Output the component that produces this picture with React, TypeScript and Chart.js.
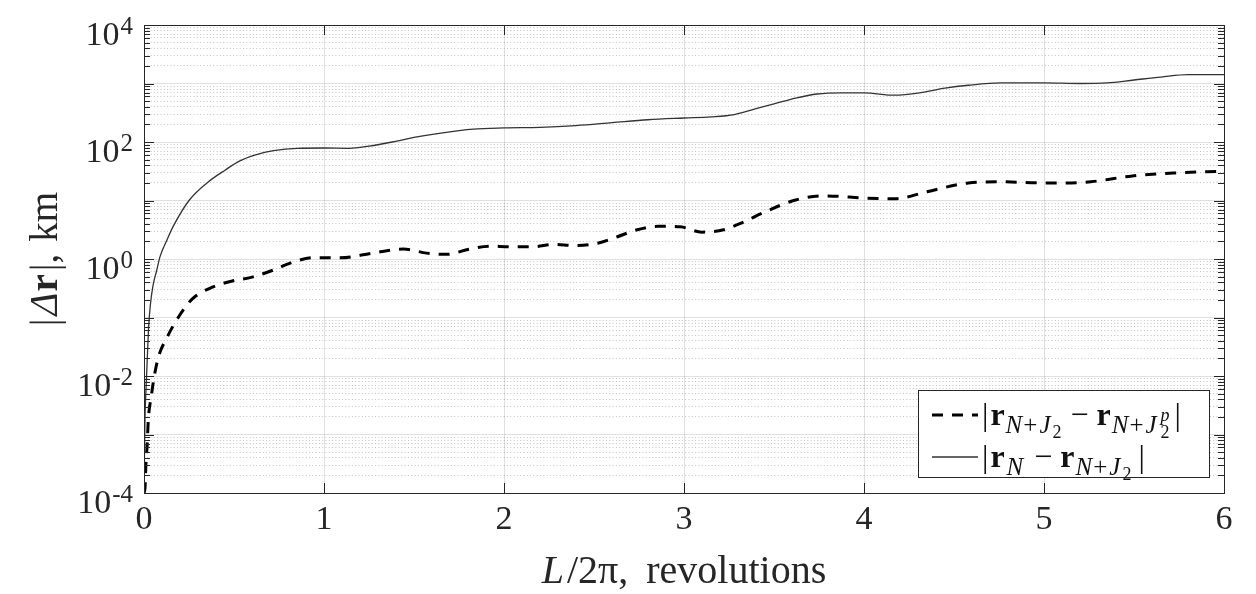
import React, { useEffect, useRef } from 'react';
import { Chart, registerables } from 'chart.js';

Chart.register(...registerables);

// ---------- data ----------
// |r_N - r_{N+J2}|  (solid)
const solidX = [0, 0.005, 0.01, 0.017, 0.025, 0.035, 0.05, 0.07, 0.09, 0.13, 0.16, 0.25, 0.35, 0.45, 0.53, 0.62, 0.72, 0.85, 1.0, 1.14, 1.25, 1.38, 1.5, 1.64, 1.83, 2.0, 2.2, 2.4, 2.6, 2.8, 3.0, 3.15, 3.28, 3.4, 3.5, 3.62, 3.74, 3.87, 4.0, 4.17, 4.31, 4.45, 4.58, 4.76, 5.0, 5.2, 5.35, 5.5, 5.65, 5.8, 6.0];
const solidY = [0.0001, 0.0016, 0.005, 0.016, 0.063, 0.16, 0.35, 0.63, 1.12, 2.2, 3.5, 10, 20, 33, 47, 60, 71, 78, 79, 78, 85, 100, 120, 141, 166, 174, 178, 191, 214, 240, 257, 269, 295, 372, 447, 562, 661, 692, 692, 631, 692, 832, 933, 1023, 1023, 1000, 1023, 1148, 1288, 1413, 1413];

// |r_{N+J2} - r_{N+J2^p}|  (dashed)
const dashedX = [0, 0.006, 0.01, 0.018, 0.024, 0.04, 0.056, 0.08, 0.13, 0.19, 0.27, 0.38, 0.49, 0.6, 0.72, 0.83, 0.94, 1.09, 1.27, 1.44, 1.57, 1.68, 1.81, 1.92, 2.03, 2.16, 2.28, 2.39, 2.52, 2.63, 2.74, 2.86, 2.98, 3.1, 3.22, 3.33, 3.44, 3.62, 3.78, 4.01, 4.17, 4.35, 4.58, 4.76, 4.99, 5.12, 5.26, 5.49, 5.72, 6.0];
const dashedY = [0.0001, 0.000126, 0.00028, 0.0007, 0.0018, 0.0044, 0.0095, 0.021, 0.047, 0.1, 0.21, 0.33, 0.42, 0.49, 0.65, 0.89, 1.05, 1.05, 1.26, 1.48, 1.26, 1.2, 1.48, 1.66, 1.62, 1.62, 1.78, 1.7, 1.86, 2.4, 3.16, 3.63, 3.55, 2.88, 3.16, 4.27, 6.17, 10.2, 12.0, 11.0, 10.7, 14.1, 20.0, 20.9, 20.0, 20.0, 20.9, 26.3, 29.5, 31.6];

const xTickValues = [0, 1, 2, 3, 4, 5, 6];
const yDecadeExponents = [-4, -3, -2, -1, 0, 1, 2, 3, 4];
const yLabelExponents = [-4, -2, 0, 2, 4];
const xMin = 0;
const xMax = 6;
const yMin = 1e-4;
const yMax = 1e4;

const legendNames = ['|r_{N+J2} − r_{N+J2^p}|', '|r_N − r_{N+J2}|'];

// ---------- styling ----------
const SERIF = '"Liberation Serif", "Times New Roman", serif';
const AXIS = '#262626';

type Seg = { t: string; font: string; dy?: number; gap?: number; stack?: boolean };

function drawRich(ctx: CanvasRenderingContext2D, segs: Seg[], x: number, y: number, draw = true): number {
  let cx = x;
  let lastX = x;
  for (const s of segs) {
    ctx.font = s.font;
    const w = ctx.measureText(s.t).width;
    if (s.stack) {
      if (draw) ctx.fillText(s.t, lastX, y + (s.dy || 0));
      cx = Math.max(cx, lastX + w);
      continue;
    }
    cx += s.gap || 0;
    if (draw) ctx.fillText(s.t, cx, y + (s.dy || 0));
    lastX = cx;
    cx += w;
  }
  return cx - x;
}

const mainF = `32px ${SERIF}`;
const boldF = `bold 32px ${SERIF}`;
const subI = `italic 25px ${SERIF}`;
const subN = `25px ${SERIF}`;
const ssN = `18px ${SERIF}`;
const ssI = `italic 18px ${SERIF}`;

const legendRows: Seg[][] = [
  [
    { t: '|', font: mainF },
    { t: 'r', font: boldF, gap: 2 },
    { t: 'N', font: subI, dy: 8, gap: 1 },
    { t: '+', font: subN, dy: 8, gap: 1 },
    { t: 'J', font: subI, dy: 8, gap: 2 },
    { t: '2', font: ssN, dy: 13, gap: 2 },
    { t: '−', font: mainF, gap: 9 },
    { t: 'r', font: boldF, gap: 8 },
    { t: 'N', font: subI, dy: 8, gap: 1 },
    { t: '+', font: subN, dy: 8, gap: 1 },
    { t: 'J', font: subI, dy: 8, gap: 2 },
    { t: 'p', font: ssI, dy: -4, gap: 4 },
    { t: '2', font: ssN, dy: 13, stack: true },
    { t: '|', font: mainF, gap: 5 },
  ],
  [
    { t: '|', font: mainF },
    { t: 'r', font: boldF, gap: 2 },
    { t: 'N', font: subI, dy: 8, gap: 2 },
    { t: '−', font: mainF, gap: 11 },
    { t: 'r', font: boldF, gap: 8 },
    { t: 'N', font: subI, dy: 8, gap: 1 },
    { t: '+', font: subN, dy: 8, gap: 1 },
    { t: 'J', font: subI, dy: 8, gap: 2 },
    { t: '2', font: ssN, dy: 13, gap: 2 },
    { t: '|', font: mainF, gap: 7 },
  ],
];

const titleF = `40px ${SERIF}`;
const xTitleSegs: Seg[] = [
  { t: 'L', font: `italic 40px ${SERIF}` },
  { t: '/2π,', font: titleF, gap: 3 },
  { t: 'revolutions', font: titleF, gap: 18 },
];
const yTitleF = `39px ${SERIF}`;
const yTitleSegs: Seg[] = [
  { t: '|', font: yTitleF },
  { t: 'Δ', font: `italic 39px ${SERIF}`, gap: 3 },
  { t: 'r', font: `bold 39px ${SERIF}`, gap: 1 },
  { t: '|', font: yTitleF, gap: 3 },
  { t: ',', font: yTitleF },
  { t: 'km', font: yTitleF, gap: 12 },
];

const tickF = `34px ${SERIF}`;
const expF = `25px ${SERIF}`;

const framePlugin = {
  id: 'matlabFrame',
  afterDraw(chart: any) {
    const { ctx, chartArea: a, scales } = chart;
    const xs = scales.x;
    const ys = scales.y;
    ctx.save();
    // box
    ctx.strokeStyle = AXIS;
    ctx.lineWidth = 1;
    ctx.setLineDash([]);
    ctx.strokeRect(Math.round(a.left) + 0.5, Math.round(a.top) + 0.5, Math.round(a.right - a.left), Math.round(a.bottom - a.top));
    // x ticks (inward, top & bottom)
    ctx.beginPath();
    for (const v of xTickValues) {
      const px = Math.round(xs.getPixelForValue(v)) + 0.5;
      ctx.moveTo(px, a.bottom);
      ctx.lineTo(px, a.bottom - 10);
      ctx.moveTo(px, a.top);
      ctx.lineTo(px, a.top + 10);
    }
    // y ticks (inward, left & right), decades + minor
    for (const e of yDecadeExponents) {
      for (let m = 1; m <= 9; m++) {
        if (e === 4 && m > 1) break;
        const v = m * Math.pow(10, e);
        const py = Math.round(ys.getPixelForValue(v)) + 0.5;
        const len = m === 1 ? 10 : 6;
        ctx.moveTo(a.left, py);
        ctx.lineTo(a.left + len, py);
        ctx.moveTo(a.right, py);
        ctx.lineTo(a.right - len, py);
      }
    }
    ctx.stroke();

    // y tick labels: 10 with raised exponent
    ctx.fillStyle = AXIS;
    ctx.textBaseline = 'alphabetic';
    ctx.textAlign = 'right';
    const labelRight = a.left - 11;
    for (const e of yLabelExponents) {
      const py = ys.getPixelForValue(Math.pow(10, e));
      const expStr = String(e);
      ctx.font = expF;
      const ew = ctx.measureText(expStr).width;
      ctx.fillText(expStr, labelRight, py + 9);
      ctx.font = tickF;
      ctx.fillText('10', labelRight - ew - 1, py + 20);
    }

    // axis titles
    ctx.textAlign = 'left';
    const cx = (a.left + a.right) / 2;
    const wx = drawRich(ctx, xTitleSegs, 0, 0, false);
    drawRich(ctx, xTitleSegs, cx - wx / 2, 583);
    const cy = (a.top + a.bottom) / 2;
    const wy = drawRich(ctx, yTitleSegs, 0, 0, false);
    ctx.save();
    ctx.translate(57, cy);
    ctx.rotate(-Math.PI / 2);
    drawRich(ctx, yTitleSegs, -wy / 2, 0);
    ctx.restore();

    // legend
    const lx = 918, ly = 390, lw = 291, lh = 87;
    ctx.fillStyle = '#ffffff';
    ctx.fillRect(lx, ly, lw, lh);
    ctx.strokeStyle = AXIS;
    ctx.lineWidth = 1;
    ctx.strokeRect(lx + 0.5, ly + 0.5, lw, lh);
    const rowY = [415, 457];
    const baseY = [425, 467];
    chart.data.datasets.forEach((ds: any, i: number) => {
      ctx.save();
      ctx.strokeStyle = ds.borderColor;
      ctx.lineWidth = ds.borderWidth;
      ctx.setLineDash(ds.borderDash || []);
      ctx.beginPath();
      ctx.moveTo(932, rowY[i]);
      ctx.lineTo(978, rowY[i]);
      ctx.stroke();
      ctx.restore();
      ctx.fillStyle = '#111111';
      drawRich(ctx, legendRows[i], 982, baseY[i]);
    });
    ctx.restore();
  },
};

const yTickList = (() => {
  const out: { value: number; major: boolean }[] = [];
  for (const e of yDecadeExponents) {
    for (let m = 1; m <= 9; m++) {
      if (e === 4 && m > 1) break;
      out.push({ value: m * Math.pow(10, e), major: m === 1 });
    }
  }
  return out;
})();

export default function App() {
  const ref = useRef<HTMLCanvasElement>(null);
  useEffect(() => {
    const solidData = solidX.map((x, i) => ({ x, y: solidY[i] }));
    const dashedData = dashedX.map((x, i) => ({ x, y: dashedY[i] }));
    const chart = new Chart(ref.current!, {
      type: 'line',
      data: {
        datasets: [
          {
            label: legendNames[0],
            data: dashedData,
            borderColor: '#000000',
            borderWidth: 3,
            borderDash: [11, 9],
            pointRadius: 0,
            cubicInterpolationMode: 'monotone',
            fill: false,
          },
          {
            label: legendNames[1],
            data: solidData,
            borderColor: '#333333',
            borderWidth: 1.3,
            pointRadius: 0,
            cubicInterpolationMode: 'monotone',
            fill: false,
          },
        ],
      },
      options: {
        responsive: false,
        maintainAspectRatio: false,
        animation: false,
        devicePixelRatio: 1,
        layout: { padding: { top: 25, right: 32, left: 0, bottom: 0 } },
        plugins: { legend: { display: false }, tooltip: { enabled: false } },
        scales: {
          x: {
            type: 'linear',
            min: xMin,
            max: xMax,
            afterBuildTicks: (scale: any) => {
              scale.ticks = xTickValues.map((v) => ({ value: v }));
            },
            afterFit: (scale: any) => {
              scale.height = 101;
              scale.paddingLeft = 0;
              scale.paddingRight = 0;
            },
            ticks: {
              autoSkip: false,
              maxRotation: 0,
              padding: 7,
              color: AXIS,
              font: { family: SERIF, size: 34 },
              callback: (v: any) => String(v),
            },
            grid: { drawTicks: false, color: 'rgba(38,38,38,0.14)', lineWidth: 1 },
            border: { display: false },
          },
          y: {
            type: 'logarithmic',
            min: yMin,
            max: yMax,
            afterBuildTicks: (scale: any) => {
              scale.ticks = yTickList.map((t) => ({ ...t }));
            },
            afterFit: (scale: any) => {
              scale.width = 144;
              scale.paddingTop = 0;
              scale.paddingBottom = 0;
            },
            ticks: { display: false, autoSkip: false },
            grid: {
              drawTicks: false,
              color: (c: any) => (c.tick && c.tick.major ? 'rgba(38,38,38,0.14)' : 'rgba(38,38,38,0.28)'),
              lineWidth: 1,
            },
            border: {
              display: false,
              dash: (c: any) => (c.tick && c.tick.major ? [] : [1, 2.3]),
            },
          },
        },
      },
      plugins: [framePlugin],
    } as any);
    return () => chart.destroy();
  }, []);
  return (
    <div style={{ position: 'absolute', left: 0, top: 0, width: 1256, height: 594, background: '#fff' }}>
      <canvas ref={ref} width={1256} height={594} style={{ display: 'block', width: 1256, height: 594 }} />
    </div>
  );
}
